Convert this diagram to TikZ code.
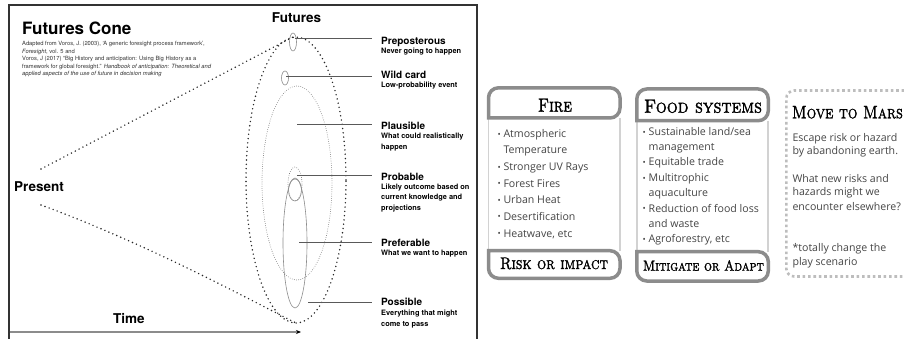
\documentclass[tikz,border=0pt]{standalone}
\usepackage{fontspec}
\newfontfamily\hel{TeX Gyre Heros}
\newfontfamily\card{Open Sans}
\newfontfamily\decofont{lmromancaps10-regular.otf}[FakeBold=1.6]
\usetikzlibrary{arrows.meta}
\definecolor{frame}{HTML}{333333}
\definecolor{cardgray}{HTML}{8C8C8C}
\definecolor{cardlight}{HTML}{D2D2D2}
\definecolor{bodytext}{HTML}{454545}
\definecolor{marsgray}{HTML}{BDBDBD}
\definecolor{cite}{HTML}{333333}
\newcommand\bul{\makebox[6pt][l]{\raisebox{0.6pt}{\fontsize{8.5}{8.5}\selectfont •}}}
\newcommand\ind{\hspace*{6pt}}
\newcommand\deco[3]{\resizebox{#1pt}{#2pt}{\decofont #3}}
\tikzset{
  bigdots/.style={draw=black!85, line width=1.6pt, line cap=round, dash pattern=on 0pt off 4.3pt},
  finedots/.style={draw=black!60, line width=0.8pt, line cap=round, dash pattern=on 0pt off 2.2pt},
  thinell/.style={draw=black!45, line width=0.6pt},
  leader/.style={draw=black!65, line width=0.9pt, shorten >=9pt},
  big/.style={inner sep=0pt, font=\hel\bfseries\fontsize{13.5}{15}\selectfont},
  lbl/.style={anchor=base west, inner sep=0pt, font=\hel\bfseries\fontsize{10}{12}\selectfont},
  desc/.style={anchor=base west, inner sep=0pt, font=\hel\bfseries\fontsize{7.4}{10.6}\selectfont},
  citeline/.style={anchor=base west, inner sep=0pt, text=cite, font=\hel\fontsize{5.8}{7}\selectfont},
  cardline/.style={draw=cardgray, line width=3.5pt},
  cardside/.style={draw=cardlight, line width=1.8pt},
  item/.style={anchor=base west, inner sep=0pt, text=bodytext, font=\card\fontsize{10.6}{12}\selectfont},
  decotitle/.style={anchor=base, inner sep=0pt},
  marsline/.style={draw=marsgray, line width=2.6pt, dash pattern=on 2.6pt off 2.8pt}
}
\begin{document}
\begin{tikzpicture}[x=1pt,y=-1pt]
\useasboundingbox (0,0) rectangle (904,339);
\fill[white] (0,0) rectangle (904,339);

% ---------- left panel ----------
\draw[frame, line width=2pt] (8.5,339) -- (8.5,5.5) -- (477,5.5) -- (477,339);

\node[anchor=base west, inner sep=0pt, font=\hel\bfseries\fontsize{17}{20}\selectfont] (title) at (22,34.3) {Futures Cone};
\node[citeline] (c1) at (22,46) {Adapted from Voros, J. (2003), ‘A generic foresight process framework’,};
\node[citeline] (c2) at (22,53.5) {\itshape Foresight\upshape, vol. 5 and};
\node[citeline] (c3) at (22,61) {Voros, J (2017) “Big History and anticipation: Using Big History as a};
\node[citeline] (c4) at (22,68.5) {framework for global foresight.” \itshape Handbook of anticipation: Theoretical and};
\node[citeline] (c5) at (22,76) {\itshape applied aspects of the use of future in decision making};

\node[big, anchor=base] (futures) at (296.5,22.7) {Futures};
\node[big, anchor=base west] (present) at (14,191.7) {Present};
\node[big, anchor=base west] (time) at (113,323.3) {Time};

% time axis
\coordinate (t0) at (9.5,332);
\coordinate (t1) at (301,332);
\draw[draw=black!45, line width=1.8pt, -{Stealth[length=5pt,width=4pt,color=black]}] (t0) -- (t1);

% cone
\coordinate (apex) at (293,37);
\coordinate (cu) at (41,169);
\coordinate (cl) at (41,205);
\coordinate (bot) at (296,323);
\draw[bigdots] (cu) -- (apex);
\draw[bigdots] (cl) .. controls (150,245) and (250,300) .. (bot);
\draw[bigdots] (296,180) ellipse [x radius=50pt, y radius=143pt];
\draw[finedots] (297,183) ellipse [x radius=35pt, y radius=97pt];
\draw[finedots] (295,184) ellipse [x radius=7pt, y radius=17pt];
\draw[thinell] (295,190) ellipse [x radius=6.5pt, y radius=11pt];
\draw[thinell] (295,243) ellipse [x radius=12pt, y radius=65pt];
\draw[thinell] (293,42) ellipse [x radius=3.5pt, y radius=9pt];
\draw[thinell] (285,78) ellipse [x radius=3.5pt, y radius=7pt];

% labels
\node[lbl] (prep) at (381,44.3) {Preposterous};
\node[desc] (prepd) at (381,53.5) {Never going to happen};
\node[lbl] (wild) at (381,78.3) {Wild card};
\node[desc] (wildd) at (381,87.5) {Low-probability event};
\node[lbl] (plaus) at (381,129.3) {Plausible};
\node[desc] (plausd1) at (381,138.8) {What could realistically};
\node[desc] (plausd2) at (381,149.3) {happen};
\node[lbl] (prob) at (381,180) {Probable};
\node[desc] (probd1) at (381,189.5) {Likely outcome based on};
\node[desc] (probd2) at (381,200) {current knowledge and};
\node[desc] (probd3) at (381,210.5) {projections};
\node[lbl] (pref) at (381,246) {Preferable};
\node[desc] (prefd) at (381,255.8) {What we want to happen};
\node[lbl] (poss) at (381,305.7) {Possible};
\node[desc] (possd1) at (381,315.8) {Everything that might};
\node[desc] (possd2) at (381,326.3) {come to pass};

\coordinate (l1) at (295,38.3);
\coordinate (l2) at (286,76);
\coordinate (l3) at (297,124.3);
\coordinate (l4) at (297,175);
\coordinate (l5) at (299,242.7);
\coordinate (l6) at (308,302.7);
\draw[leader] (l1) -- (l1 -| prep.west);
\draw[leader] (l2) -- (l2 -| wild.west);
\draw[leader] (l3) -- (l3 -| plaus.west);
\draw[leader] (l4) -- (l4 -| prob.west);
\draw[leader] (l5) -- (l5 -| pref.west);
\draw[leader] (l6) -- (l6 -| poss.west);

% ---------- Fire card ----------
\draw[cardside] (488.5,118) -- (488.5,250.7);
\draw[cardside] (620,118) -- (620,250.7);
\draw[cardline, rounded corners=10pt] (488.5,118) -- (488.5,87.8) -- (620,87.8) -- (620,118) [sharp corners] -- cycle;
\draw[cardline, rounded corners=10pt] (488.5,250.7) -- (488.5,278.3) -- (620,278.3) -- (620,250.7) [sharp corners] -- cycle;
\node[decotitle] (fire) at (555,111.7) {\deco{34}{13}{Fire}};
\node[decotitle] (risk) at (554,269) {\deco{108}{11.5}{Risk or impact}};
\node[item] (f1) at (497.3,137.7) {\bul Atmospheric};
\node[item] (f2) at (497.3,154) {\ind Temperature};
\node[item] (f3) at (497.3,170.7) {\bul Stronger UV Rays};
\node[item] (f4) at (497.3,187.3) {\bul Forest Fires};
\node[item] (f5) at (497.3,203.7) {\bul Urban Heat};
\node[item] (f6) at (497.3,220.3) {\bul Desertification};
\node[item] (f7) at (497.3,237) {\bul Heatwave, etc};

% ---------- Food card ----------
\draw[cardside] (636.8,120.7) -- (636.8,251.7);
\draw[cardside] (768.3,120.7) -- (768.3,251.7);
\draw[cardline, rounded corners=10pt] (636.8,120.7) -- (636.8,89) -- (768.3,89) -- (768.3,120.7) [sharp corners] -- cycle;
\draw[cardline, rounded corners=10pt] (636.8,251.7) -- (636.8,281) -- (768.3,281) -- (768.3,251.7) [sharp corners] -- cycle;
\node[decotitle] (food) at (703,112.7) {\deco{118}{13}{Food systems}};
\node[decotitle] (mitig) at (703.4,270.7) {\deco{121}{10.5}{Mitigate or Adapt}};
\node[item] (g1) at (642.5,136) {\bul Sustainable land/sea};
\node[item] (g2) at (642.5,151) {\ind management};
\node[item] (g3) at (642.5,166) {\bul Equitable trade};
\node[item] (g4) at (642.5,181.7) {\bul Multitrophic};
\node[item] (g5) at (642.5,196.7) {\ind aquaculture};
\node[item] (g6) at (642.5,212) {\bul Reduction of food loss};
\node[item] (g7) at (642.5,227.3) {\ind and waste};
\node[item] (g8) at (642.5,242.7) {\bul Agroforestry, etc};

% ---------- Mars box ----------
\draw[marsline, rounded corners=8pt] (915,90.5) -- (786.3,90.5) -- (786.3,276.5) -- (915,276.5);
\node[decotitle, anchor=base west] (mars) at (791.7,118.3) {\deco{111}{12.3}{Move to Mars}};
\node[item] (m1) at (792.3,141.7) {Escape risk or hazard};
\node[item] (m2) at (792.3,155) {by abandoning earth.};
\node[item] (m3) at (792.3,182.7) {What new risks and};
\node[item] (m4) at (792.3,196) {hazards might we};
\node[item] (m5) at (792.3,210) {encounter elsewhere?};
\node[item] (m6) at (792.3,251.7) {*totally change the};
\node[item] (m7) at (792.3,265) {play scenario};
\end{tikzpicture}
\end{document}
